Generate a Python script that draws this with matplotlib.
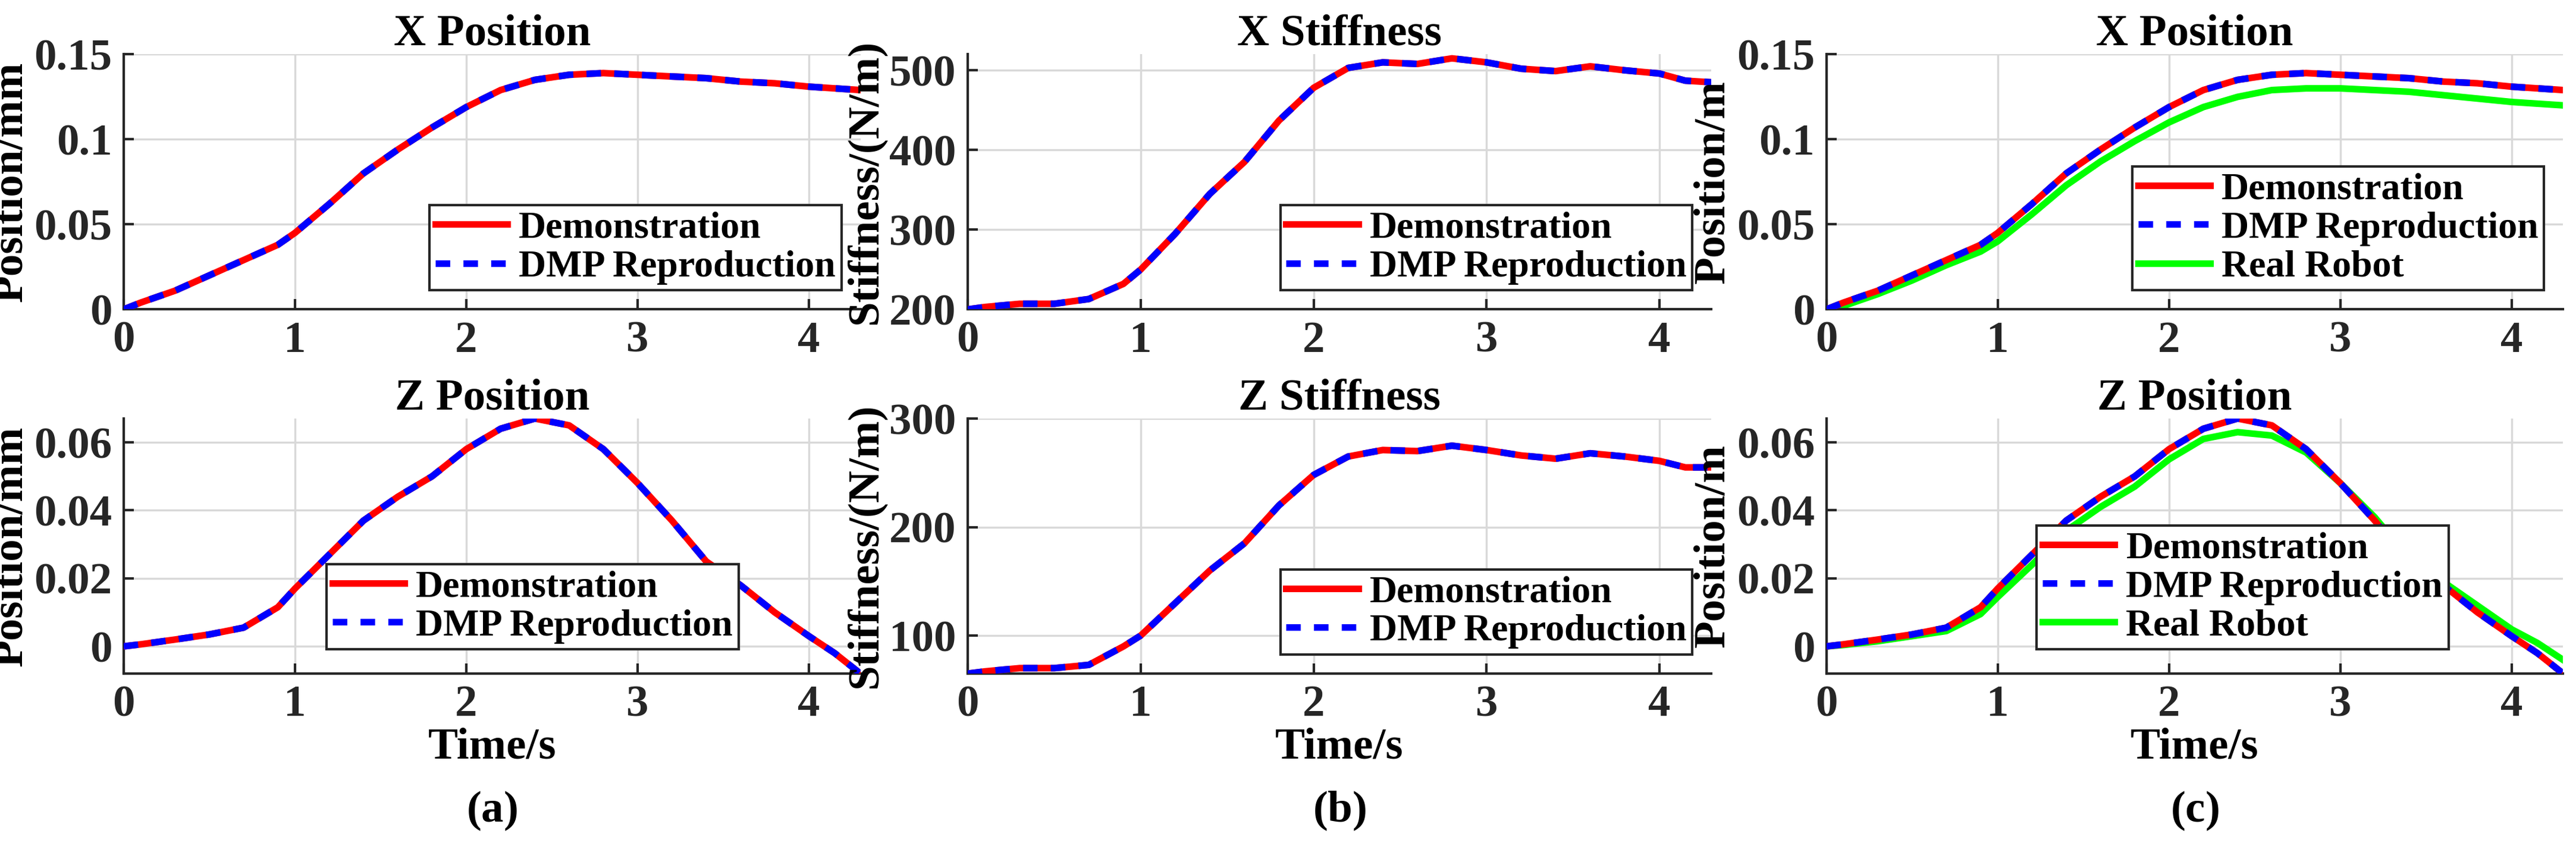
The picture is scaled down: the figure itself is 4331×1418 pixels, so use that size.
import matplotlib
matplotlib.use("Agg")
import matplotlib.pyplot as plt

plt.rcParams["font.family"] = "Liberation Serif"
plt.rcParams["font.weight"] = "bold"
plt.rcParams["mathtext.fontset"] = "custom"
plt.rcParams["mathtext.rm"] = "Liberation Serif"
plt.rcParams["mathtext.bf"] = "Liberation Serif:bold"

t = [0, 0.1, 0.3, 0.5, 0.7, 0.9, 1.0, 1.2, 1.4, 1.6, 1.8, 2.0, 2.2, 2.4, 2.6, 2.8, 3.0,
     3.2, 3.4, 3.6, 3.8, 4.0, 4.15, 4.3]

x_pos = [0, 0.004, 0.011, 0.020, 0.029, 0.038, 0.045, 0.062, 0.080, 0.094, 0.107, 0.119,
         0.129, 0.135, 0.138, 0.139, 0.138, 0.137, 0.136, 0.134, 0.133, 0.131, 0.130, 0.129]
x_pos_robot = [0, 0.002, 0.009, 0.017, 0.026, 0.034, 0.040, 0.056, 0.073, 0.087, 0.099, 0.110,
               0.119, 0.125, 0.129, 0.130, 0.130, 0.129, 0.128, 0.126, 0.124, 0.122, 0.121, 0.120]

z_pos = [0, 0.0006, 0.002, 0.0035, 0.0055, 0.0115, 0.017, 0.027, 0.037, 0.044, 0.050, 0.058,
         0.064, 0.067, 0.065, 0.058, 0.048, 0.037, 0.025, 0.018, 0.010, 0.003, -0.002, -0.008]
z_pos_robot = [0, 0.0004, 0.0015, 0.003, 0.0045, 0.0095, 0.0145, 0.024, 0.034, 0.041, 0.047, 0.055,
               0.061, 0.063, 0.062, 0.057, 0.048, 0.038, 0.026, 0.019, 0.012, 0.005, 0.001, -0.004]

x_stiff = [200, 203, 207, 207, 213, 232, 250, 295, 345, 385, 437, 478, 503, 510, 508, 515, 510,
           502, 499, 505, 500, 496, 487, 485]
z_stiff = [65, 67, 70, 70, 73, 90, 100, 130, 160, 185, 220, 248, 265, 271, 270, 275, 271,
           266, 263, 268, 265, 261, 255, 255]

W, H = 4331, 1418
fig = plt.figure(figsize=(W / 100, H / 100), dpi=100)

lefts = [0.048, 0.3757, 0.709]
widths = [0.286, 0.2886, 0.286]
bottoms = [0.633, 0.201]
ah = 0.3025
FS = 54

panels = [
    (0, 0, "X Position", "Position/mm", x_pos, None, (0, 0.15), [0, 0.05, 0.1, 0.15], ["0", "0.05", "0.1", "0.15"], "lower right"),
    (0, 1, "Z Position", "Position/mm", z_pos, None, (-0.008, 0.067), [0, 0.02, 0.04, 0.06], ["0", "0.02", "0.04", "0.06"], (0.26, 0.05)),
    (1, 0, "X Stiffness", "Stiffness/(N/m)", x_stiff, None, (200, 520), [200, 300, 400, 500], None, "lower right"),
    (1, 1, "Z Stiffness", "Stiffness/(N/m)", z_stiff, None, (65, 300), [100, 200, 300], None, "lower right"),
    (2, 0, "X Position", "Position/m", x_pos, x_pos_robot, (0, 0.15), [0, 0.05, 0.1, 0.15], ["0", "0.05", "0.1", "0.15"], "lower right"),
    (2, 1, "Z Position", "Position/m", z_pos, z_pos_robot, (-0.008, 0.067), [0, 0.02, 0.04, 0.06], ["0", "0.02", "0.04", "0.06"], (0.27, 0.05)),
]

for col, row, title, ylab, demo, robot, ylim, yt, ytl, loc in panels:
    ax = fig.add_axes([lefts[col], bottoms[row], widths[col], ah])
    ax.plot(t, demo, color="red", lw=8, label="Demonstration", zorder=3)
    ax.plot(t, demo, color="blue", lw=8, ls=(0, (2.2, 2)), label="DMP Reproduction", zorder=4)
    if robot is not None:
        ax.plot(t, robot, color="#00ff00", lw=8, label="Real Robot", zorder=2)
    ax.set_xlim(0, 4.3)
    ax.set_ylim(*ylim)
    ax.set_xticks([0, 1, 2, 3, 4])
    ax.set_yticks(yt)
    if ytl:
        ax.set_yticklabels(ytl)
    ax.grid(True, color="#d9d9d9", lw=2.5)
    ax.set_axisbelow(True)
    for s in ["top", "right"]:
        ax.spines[s].set_visible(False)
    for s in ["left", "bottom"]:
        ax.spines[s].set_linewidth(3)
        ax.spines[s].set_color("#262626")
    ax.tick_params(direction="in", length=12, width=3, labelsize=FS, colors="#262626", pad=14)
    ax.set_title(title, fontsize=FS, fontweight="bold", pad=4)
    ax.set_ylabel(ylab, fontsize=FS, fontweight="bold", labelpad=4)
    if row == 1:
        ax.set_xlabel("Time/s", fontsize=FS, fontweight="bold", labelpad=2)
    kw = dict(fontsize=46, fancybox=False, framealpha=1, edgecolor="#262626",
              borderpad=0.15, handlelength=1.9, handletextpad=0.3, labelspacing=0.1)
    if isinstance(loc, tuple):
        leg = ax.legend(loc="lower left", bbox_to_anchor=loc, borderaxespad=0.3, **kw)
    else:
        leg = ax.legend(loc=loc, borderaxespad=0.5, **kw)
    leg.get_frame().set_linewidth(3)

for col, lab in zip(range(3), ["a", "b", "c"]):
    cx = lefts[col] + widths[col] / 2
    fig.text(cx, 0.025, r"$\mathrm{(}\mathbf{%s}\mathrm{)}$" % lab, fontsize=FS, ha="center")

fig.savefig("out.png", dpi=100)
